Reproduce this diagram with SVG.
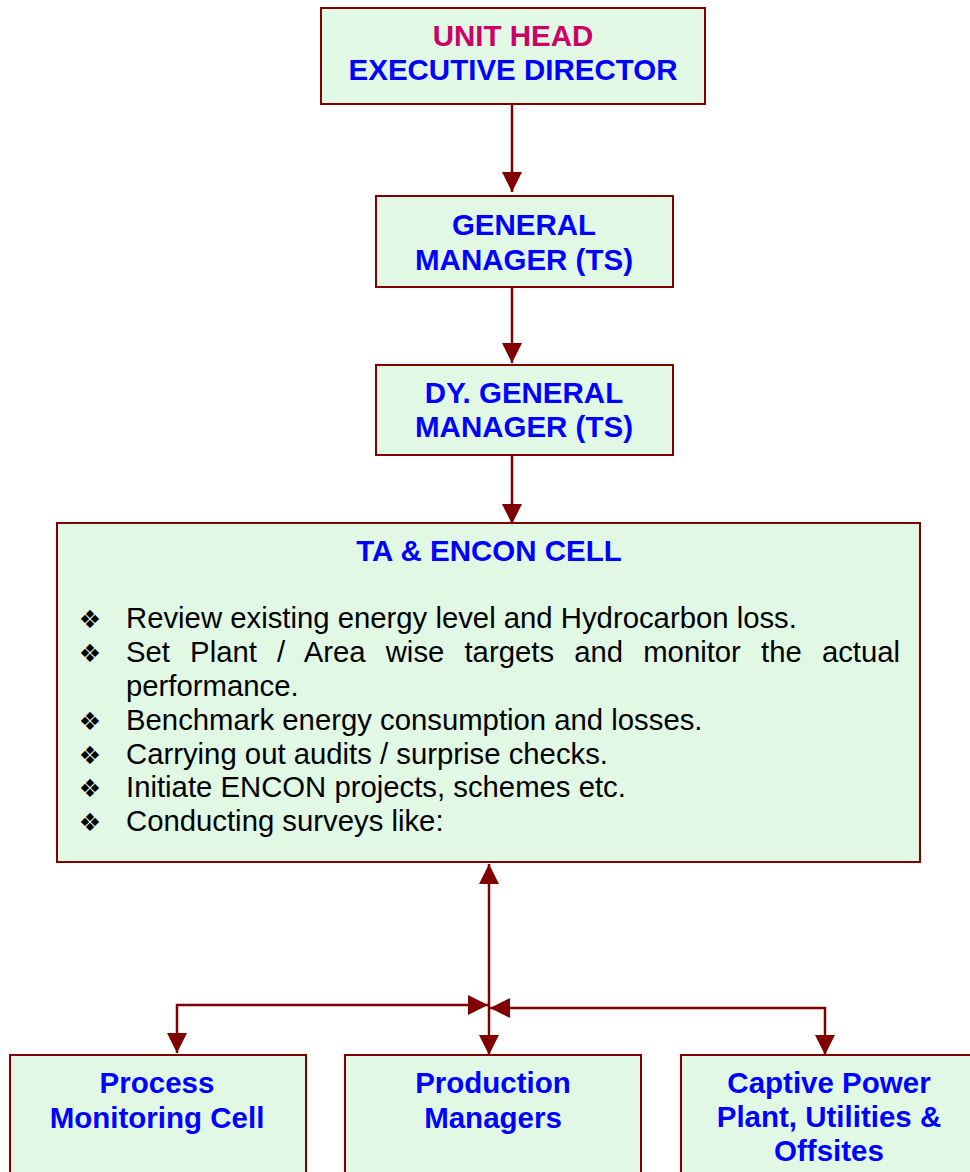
<svg xmlns="http://www.w3.org/2000/svg" width="970" height="1172" viewBox="0 0 970 1172">
<defs>
<style>
.box{fill:#E0F8E4;stroke:#800000;stroke-width:2}
.lbl{font-family:"Liberation Sans",Arial,sans-serif;font-weight:bold;font-size:29.5px;fill:#0000FF;text-anchor:middle}
.red{fill:#CC0066}
.body{font-family:"Liberation Sans",Arial,sans-serif;font-size:29.3px;fill:#000}
.bul{font-family:"DejaVu Sans",sans-serif;font-size:25px;fill:#000;text-anchor:middle}
.con{fill:none;stroke:#800000;stroke-width:2.5}
</style>
<marker id="ah" markerWidth="8" markerHeight="8.5" viewBox="0 0 10 10" refX="10" refY="5" orient="auto-start-reverse" markerUnits="strokeWidth">
<path d="M0,0 L10,5 L0,10 Z" fill="#800000"/>
</marker>
</defs>
<rect width="970" height="1172" fill="#fff"/>
<g id="connectors">
<line class="con" x1="512" y1="104" x2="512" y2="192" marker-end="url(#ah)"/>
<line class="con" x1="512" y1="287" x2="512" y2="363" marker-end="url(#ah)"/>
<line class="con" x1="512" y1="455" x2="512" y2="524" marker-end="url(#ah)"/>
<line class="con" x1="489" y1="864" x2="489" y2="1055" marker-start="url(#ah)" marker-end="url(#ah)"/>
<polyline class="con" points="177,1053 177,1005 488,1005" marker-start="url(#ah)" marker-end="url(#ah)"/>
<polyline class="con" points="825,1055 825,1008 490,1008" marker-start="url(#ah)" marker-end="url(#ah)"/>
</g>
<g id="unit-head">
<rect class="box" x="321" y="8" width="384" height="96"/>
<text class="lbl red" x="513" y="46">UNIT HEAD</text>
<text class="lbl" x="513" y="80">EXECUTIVE DIRECTOR</text>
</g>
<g id="gm">
<rect class="box" x="376" y="196" width="297" height="91"/>
<text class="lbl" x="524" y="235">GENERAL</text>
<text class="lbl" x="524" y="270">MANAGER (TS)</text>
</g>
<g id="dgm">
<rect class="box" x="376" y="365" width="297" height="90"/>
<text class="lbl" x="524" y="403">DY. GENERAL</text>
<text class="lbl" x="524" y="437">MANAGER (TS)</text>
</g>
<g id="ta-encon">
<rect class="box" x="57" y="523" width="863" height="339"/>
<text class="lbl" x="489" y="561">TA &amp; ENCON CELL</text>
<text class="bul" x="90" y="628">❖</text>
<text class="body" x="126" y="628">Review existing energy level and Hydrocarbon loss.</text>
<text class="bul" x="90" y="662">❖</text>
<text class="body" x="126" y="662" word-spacing="12">Set Plant / Area wise targets and monitor the actual</text>
<text class="body" x="126" y="696">performance.</text>
<text class="bul" x="90" y="730">❖</text>
<text class="body" x="126" y="730">Benchmark energy consumption and losses.</text>
<text class="bul" x="90" y="764">❖</text>
<text class="body" x="126" y="764">Carrying out audits / surprise checks.</text>
<text class="bul" x="90" y="797">❖</text>
<text class="body" x="126" y="797">Initiate ENCON projects, schemes etc.</text>
<text class="bul" x="90" y="831">❖</text>
<text class="body" x="126" y="831">Conducting surveys like:</text>
</g>
<g id="pmc">
<rect class="box" x="10" y="1055" width="296" height="130"/>
<text class="lbl" x="157" y="1093">Process</text>
<text class="lbl" x="157" y="1128">Monitoring Cell</text>
</g>
<g id="prod">
<rect class="box" x="345" y="1055" width="296" height="130"/>
<text class="lbl" x="493" y="1093">Production</text>
<text class="lbl" x="493" y="1128">Managers</text>
</g>
<g id="cpp">
<rect class="box" x="681" y="1055" width="300" height="130"/>
<text class="lbl" x="829" y="1093">Captive Power</text>
<text class="lbl" x="829" y="1127">Plant, Utilities &amp;</text>
<text class="lbl" x="829" y="1161">Offsites</text>
</g>
</svg>
